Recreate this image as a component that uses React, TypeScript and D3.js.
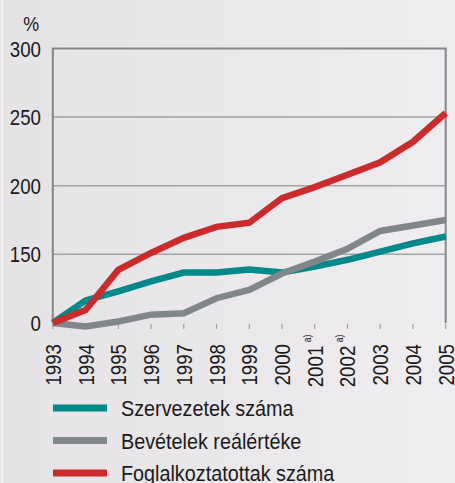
import React, { useEffect, useRef } from "react";
import * as d3 from "d3";

const years = [1993, 1994, 1995, 1996, 1997, 1998, 1999, 2000, 2001, 2002, 2003, 2004, 2005];
const szervezetek = [0, 49, 69, 91, 110, 110, 117, 110, 123, 138, 152, 158, 163];
const bevetelek = [0, -8, 3, 18, 21, 54, 72, 108, 134, 154, 167, 171, 175];
const foglalkoztatottak = [0, 28, 116, 151, 162, 170, 173, 191, 199, 208, 217, 232, 253];
const yTicks = [0, 150, 200, 250, 300];
const footnoteYears = [2001, 2002];

const series = [
  { name: "Szervezetek száma", values: szervezetek, color: "#00898a" },
  { name: "Bevételek reálértéke", values: bevetelek, color: "#80878a" },
  { name: "Foglalkoztatottak száma", values: foglalkoztatottak, color: "#cd2a2a" },
];

const W = 455;
const H = 483;
// no narrow font installed, so squeeze Liberation Sans horizontally
const FONT = "'Liberation Sans', Arial, sans-serif";
const SQ = 0.85;

export default function App() {
  const svgRef = useRef<SVGSVGElement>(null);

  useEffect(() => {
    const svg = d3.select(svgRef.current);
    svg.selectAll("*").remove();

    const x = d3.scaleLinear().domain([1993, 2005]).range([52.8, 445.7]);
    // broken axis: 0-150 squeezed into the same step as 50
    const y = d3
      .scaleLinear()
      .domain(yTicks)
      .range([322.9, 254.3, 185.7, 117.1, 48.5]);

    const grad = svg
      .append("defs")
      .append("linearGradient")
      .attr("id", "bg")
      .attr("x1", 0)
      .attr("x2", 1);
    grad.append("stop").attr("offset", 0).attr("stop-color", "#e5e3e6");
    grad.append("stop").attr("offset", 1).attr("stop-color", "#efedf0");

    svg.append("rect").attr("width", W).attr("height", H).attr("fill", "url(#bg)");
    svg
      .append("line")
      .attr("x1", 2)
      .attr("x2", 2)
      .attr("y1", 0)
      .attr("y2", H)
      .attr("stroke", "#fafafa")
      .attr("stroke-width", 1.5);

    // gridlines
    svg
      .append("g")
      .selectAll("line")
      .data(yTicks.filter((d) => d > 0 && d < 300))
      .enter()
      .append("line")
      .attr("x1", x(1993))
      .attr("x2", x(2005))
      .attr("y1", (d) => y(d))
      .attr("y2", (d) => y(d))
      .attr("stroke", "#a3a3a5")
      .attr("stroke-width", 1.5);

    // frame: left, top, right
    svg
      .append("path")
      .attr("d", `M${x(1993)},${y(0)}V${y(300)}H${x(2005)}V${y(0)}`)
      .attr("fill", "none")
      .attr("stroke", "#87878a")
      .attr("stroke-width", 2);

    // x ticks
    svg
      .append("g")
      .selectAll("line")
      .data(years)
      .enter()
      .append("line")
      .attr("x1", (d) => x(d))
      .attr("x2", (d) => x(d))
      .attr("y1", y(0) + 1)
      .attr("y2", y(0) + 6)
      .attr("stroke", "#a0a0a2")
      .attr("stroke-width", 1.2);

    // y labels
    svg
      .append("g")
      .selectAll("g")
      .data(yTicks)
      .enter()
      .append("g")
      .attr("transform", (d) => `translate(41,${y(d) + 8}) scale(${SQ},1)`)
      .append("text")
      .attr("text-anchor", "end")
      .attr("font-family", FONT)
      .attr("font-size", 22)
      .attr("fill", "#1a1a1a")
      .text((d) => d);

    svg
      .append("g")
      .attr("transform", `translate(39,31) scale(${SQ},1)`)
      .append("text")
      .attr("text-anchor", "end")
      .attr("font-family", FONT)
      .attr("font-size", 21)
      .attr("fill", "#1a1a1a")
      .text("%");

    // x labels, rotated
    const xl = svg
      .append("g")
      .selectAll("g")
      .data(years)
      .enter()
      .append("g")
      .attr("transform", (d) => `translate(${x(d) + 8},344) rotate(-90) scale(${SQ},1)`);
    xl.append("text")
      .attr("text-anchor", "end")
      .attr("x", (d) => (footnoteYears.includes(d) ? -2 : 0))
      .attr("font-family", FONT)
      .attr("font-size", 22)
      .attr("fill", "#1a1a1a")
      .text((d) => d);
    xl.filter((d) => footnoteYears.includes(d))
      .append("text")
      .attr("x", 11)
      .attr("y", -12)
      .attr("text-anchor", "end")
      .attr("font-family", FONT)
      .attr("font-size", 10)
      .attr("fill", "#1a1a1a")
      .text("a)");

    // lines
    const line = d3
      .line<number>()
      .x((_, i) => x(years[i]))
      .y((d) => y(d));

    svg
      .append("g")
      .selectAll("path")
      .data(series)
      .enter()
      .append("path")
      .attr("d", (s) => line(s.values))
      .attr("fill", "none")
      .attr("stroke", (s) => s.color)
      .attr("stroke-width", 6.5);

    // legend
    const lg = svg
      .append("g")
      .selectAll("g")
      .data(series)
      .enter()
      .append("g")
      .attr("transform", (_, i) => `translate(0,${408 + i * 32.5})`);
    lg.append("line")
      .attr("x1", 53)
      .attr("x2", 107)
      .attr("stroke", (s) => s.color)
      .attr("stroke-width", 7);
    lg.append("g")
      .attr("transform", `translate(121,8) scale(0.9,1)`)
      .append("text")
      .attr("font-family", FONT)
      .attr("font-size", 22)
      .attr("fill", "#1a1a1a")
      .text((s) => s.name);
  }, []);

  return (
    <svg
      ref={svgRef}
      width={W}
      height={H}
      style={{ position: "absolute", left: 0, top: 0 }}
    />
  );
}
